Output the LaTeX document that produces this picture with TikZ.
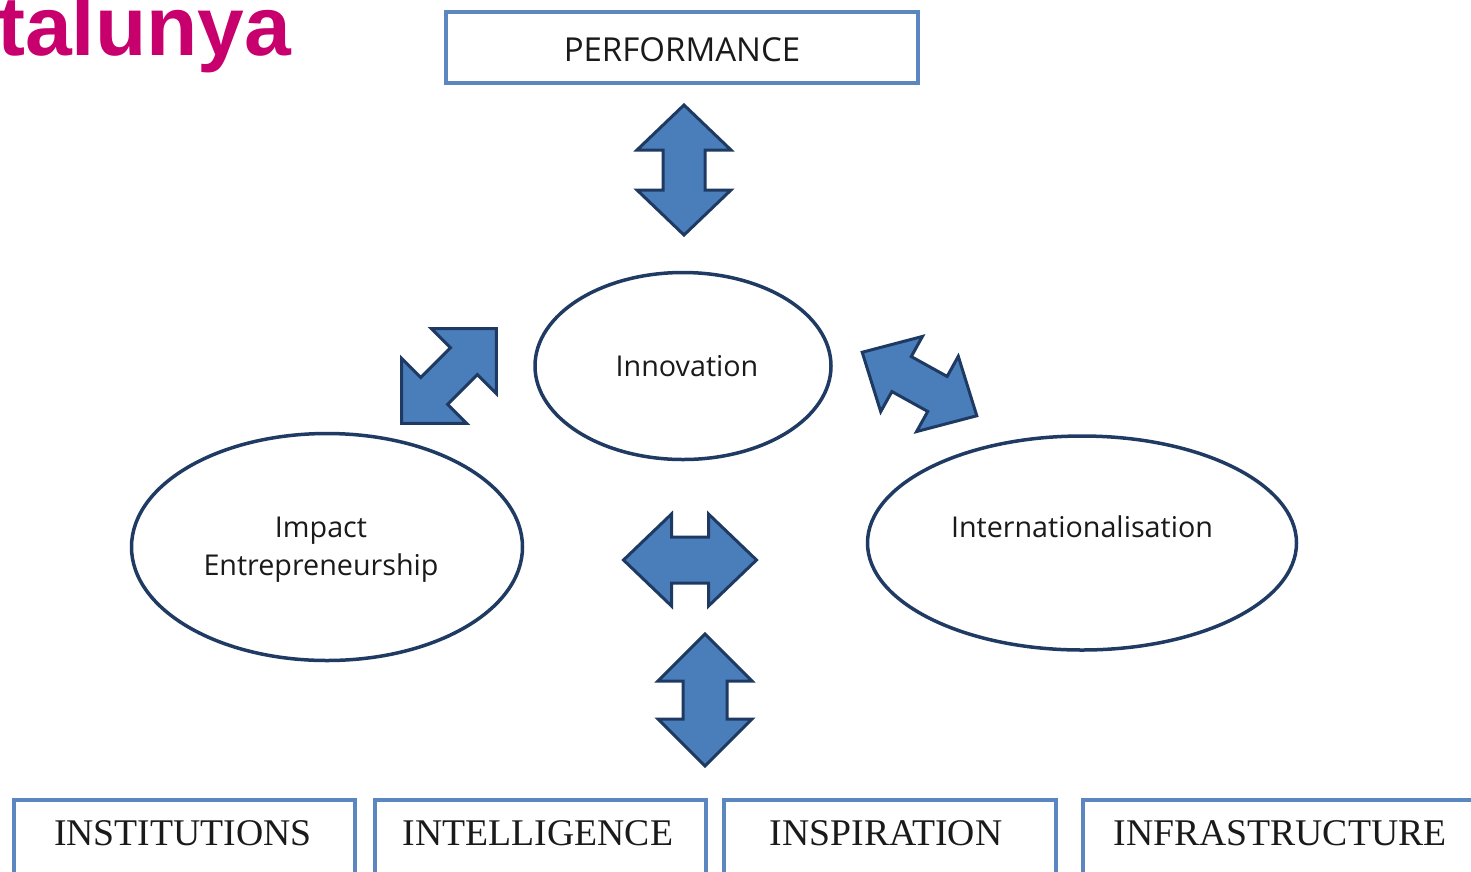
\documentclass[tikz,border=0pt]{standalone}
\usepackage{fontspec}
\setmainfont{Liberation Serif}
\newfontfamily\osans{Open Sans}
\newfontfamily\lsans{Liberation Sans}
\usetikzlibrary{shapes.geometric}
\definecolor{boxblue}{HTML}{5B86C0}
\definecolor{navy}{HTML}{1F3B63}
\definecolor{arrfill}{HTML}{4A7EBB}
\definecolor{arredge}{HTML}{1E3A62}
\definecolor{magtext}{HTML}{C8006E}
\definecolor{txt}{HTML}{1A1A1A}
\newcommand\DblArr[7]{%
  \begin{scope}[shift={(#1,#2)},rotate=#3]
    \filldraw[arrsty] (-#4/2,0) -- (-#4/2+#5,#6) -- (-#4/2+#5,#7) -- (#4/2-#5,#7)
      -- (#4/2-#5,#6) -- (#4/2,0) -- (#4/2-#5,-#6) -- (#4/2-#5,-#7)
      -- (-#4/2+#5,-#7) -- (-#4/2+#5,-#6) -- cycle;
  \end{scope}}
\begin{document}
\begin{tikzpicture}[x=1pt,y=-1pt,
  topbox/.style={draw=boxblue, line width=4pt, fill=white, inner sep=0pt},
  botbox/.style={draw=boxblue, line width=4pt, fill=white, inner sep=0pt},
  oval/.style={ellipse, draw=navy, line width=3.5pt, inner sep=0pt},
  ovaltext/.style={font=\osans\fontsize{28.7}{38}\selectfont, text=txt, align=center},
  toptext/.style={font=\osans\fontsize{33}{36}\selectfont, text=txt},
  bottext/.style={font=\fontsize{37.7}{40}\selectfont, text=txt},
  arrsty/.style={fill=arrfill, draw=arredge, line width=3pt, line join=miter}]
\useasboundingbox (0,0) rectangle (1471,871);
\clip (0,0) rectangle (1471,871);
\fill[white] (0,0) rectangle (1471,871);

% title fragment
\node[anchor=base west, inner sep=0pt, font=\lsans\bfseries\fontsize{84}{90}\selectfont, text=magtext] (title) at (-3,55) {talunya};

% top box
\node[topbox, minimum width=472pt, minimum height=71pt] (perf) at (682,47.5) {};
\node[toptext] (perftext) at (682,50) {PERFORMANCE};

% ellipses
\node[oval, minimum width=296pt, minimum height=187pt] (innov) at (683,366) {};
\node[ovaltext] (innovtext) at (687,366) {Innovation};
\node[oval, minimum width=391pt, minimum height=227pt] (impact) at (327,547) {};
\node[ovaltext] (impacttext) at (321,550) {Impact\\Entrepreneurship};
\node[oval, minimum width=429pt, minimum height=214pt] (intl) at (1082,543) {};
\node[ovaltext] (intltext) at (1082,527) {Internationalisation};

% arrows
\DblArr{684}{170}{90}{130}{45}{47}{21}
\DblArr{705}{700}{90}{132}{47}{47}{22}
\DblArr{690}{560}{0}{133}{48}{46}{23}
\DblArr{449}{376}{45}{134}{46}{46}{19}
\DblArr{919.5}{384}{-29}{131}{45}{43}{20}

% bottom boxes
\node[botbox, minimum width=341pt, minimum height=82pt, anchor=north west] (inst) at (12,798) {};
\node[bottext] (insttext) at (183,833) {INSTITUTIONS};
\node[botbox, minimum width=331pt, minimum height=82pt, anchor=north west] (intel) at (373,798) {};
\node[bottext] (inteltext) at (538,833) {INTELLIGENCE};
\node[botbox, minimum width=332pt, minimum height=82pt, anchor=north west] (insp) at (722,798) {};
\node[bottext] (insptext) at (886,833) {INSPIRATION};
\node[botbox, minimum width=400pt, minimum height=82pt, anchor=north west] (infra) at (1081,798) {};
\node[bottext] (infratext) at (1280,833) {INFRASTRUCTURE};
\end{tikzpicture}
\end{document}
